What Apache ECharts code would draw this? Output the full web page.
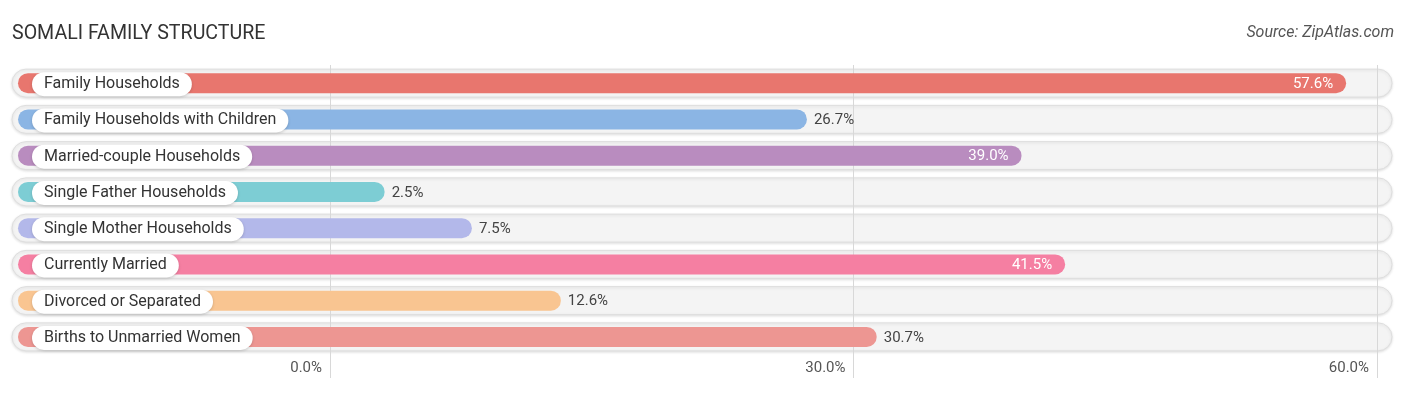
<!DOCTYPE html>
<html>
<head>
<meta charset="utf-8">
<script src="https://cdn.jsdelivr.net/npm/echarts@6/dist/echarts.min.js"></script>
<style>
html,body{margin:0;padding:0;background:#fff;}
#chart{width:1406px;height:395px;}
</style>
</head>
<body>
<div id="chart"></div>
<script>
const categories = [
  'Family Households',
  'Family Households with Children',
  'Married-couple Households',
  'Single Father Households',
  'Single Mother Households',
  'Currently Married',
  'Divorced or Separated',
  'Births to Unmarried Women'
];
const values = [57.6, 26.7, 39.0, 2.5, 7.5, 41.5, 12.6, 30.7];
const barColors = ['#E8766E', '#8BB5E4', '#B98CBF', '#7DCDD4', '#B3B8EA', '#F57FA2', '#F9C591', '#ED9692'];
const axisTicks = [0, 30, 60];

const chart = echarts.init(document.getElementById('chart'));
const FONT = 'Roboto, "Noto Sans", sans-serif';

const trackData = categories.map((c, i) => [0, i]);
const barData = values.map((v, i) => [v, i]);

chart.setOption({
  animation: false,
  title: [
    {text: 'SOMALI FAMILY STRUCTURE', left: 7, top: 19,
     textStyle: {fontFamily: FONT, fontSize: 19.6, fontWeight: 'normal', color: '#333'}},
    {text: 'Source: ZipAtlas.com', right: 7, top: 20,
     textStyle: {fontFamily: FONT, fontSize: 16, fontWeight: 'normal', fontStyle: 'italic', color: '#555'}}
  ],
  grid: {left: 330, right: 29, top: 65, height: 290},
  xAxis: {
    type: 'value', min: axisTicks[0], max: axisTicks[axisTicks.length - 1], interval: 30,
    z: 1,
    axisLine: {show: false},
    axisTick: {show: true, length: 23, lineStyle: {color: '#d8d8d8', width: 1}},
    splitLine: {show: true, lineStyle: {color: '#d8d8d8', width: 1}},
    axisLabel: {
      margin: 6, align: 'right', padding: [0, 8, 0, 0],
      fontFamily: FONT, fontSize: 15, color: '#555',
      formatter: v => v.toFixed(1) + '%'
    }
  },
  yAxis: {
    type: 'category', data: categories, inverse: true,
    axisLine: {show: false}, axisTick: {show: false}, axisLabel: {show: false},
    splitLine: {show: false}
  },
  series: [
    {
      type: 'custom', z: -1, clip: false, silent: true,
      data: trackData,
      encode: {x: 0, y: 1},
      renderItem: function (params, api) {
        const c = api.coord([0, api.value(1)]);
        const cy = c[1];
        const h = 28;
        return {
          type: 'rect',
          shape: {x: 12, y: cy - h / 2, width: 1380, height: h, r: h / 2},
          style: {fill: '#f4f4f4', stroke: '#dedede', lineWidth: 1,
                  shadowBlur: 3, shadowColor: 'rgba(0,0,0,0.12)', shadowOffsetY: 1}
        };
      }
    },
    {
      type: 'custom', z: 3, clip: false, silent: true,
      data: barData,
      encode: {x: 0, y: 1},
      renderItem: function (params, api) {
        const v = api.value(0);
        const idx = api.value(1);
        const c = api.coord([v, idx]);
        const cy = c[1];
        const h = 20;
        const x0 = 18;
        const x1 = c[0] + 11;
        const inside = v > 35;
        const label = v.toFixed(1) + '%';
        return {
          type: 'group',
          children: [
            {
              type: 'rect',
              shape: {x: x0, y: cy - h / 2, width: x1 - x0, height: h, r: h / 2},
              style: {fill: barColors[idx]}
            },
            {
              type: 'text',
              x: 32, y: cy + 1,
              style: {
                text: categories[idx],
                fontFamily: FONT, fontSize: 16, fill: '#333',
                verticalAlign: 'middle', align: 'left',
                backgroundColor: '#fff', padding: [4, 12, 4, 12], borderRadius: 12,
                shadowBlur: 3, shadowColor: 'rgba(0,0,0,0.18)', shadowOffsetY: 1
              }
            },
            {
              type: 'text',
              x: inside ? x1 - 13 : x1 + 7, y: cy + 1,
              style: {
                text: label,
                fontFamily: FONT, fontSize: 15,
                fill: inside ? '#fff' : '#444',
                verticalAlign: 'middle', align: inside ? 'right' : 'left'
              }
            }
          ]
        };
      }
    }
  ]
});
</script>
</body>
</html>
